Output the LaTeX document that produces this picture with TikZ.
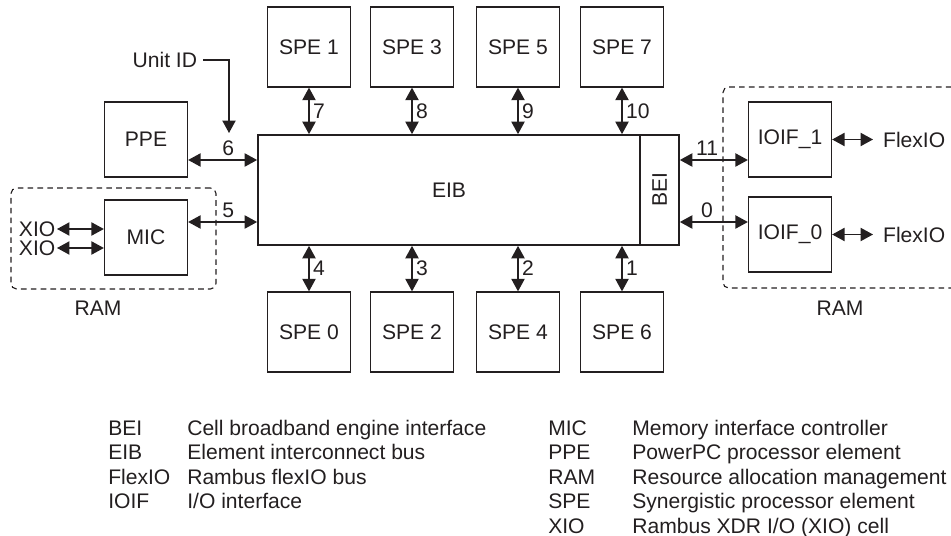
\documentclass[tikz,border=0pt]{standalone}
\usepackage{fontspec}
\setmainfont{Liberation Sans}
\usetikzlibrary{arrows.meta,positioning,calc}
\definecolor{ink}{HTML}{231F20}

\begin{document}
\begin{tikzpicture}[x=0.025cm, y=-0.025cm, color=ink,
  font=\fontsize{15}{18}\selectfont,
  >={Triangle[length=3.1mm,width=3.3mm]},
  unit/.style={draw, line width=0.9pt, inner sep=0pt, minimum width=2.075cm, minimum height=2cm},
  bus/.style={<->, line width=0.9pt},
  ramzone/.style={draw, dash pattern=on 4pt off 3pt, line width=0.8pt, rounded corners=4pt, inner sep=0pt},
  tag/.style={inner sep=2.5pt},
  key/.style={anchor=base west, inner sep=0pt}]
\useasboundingbox (0,0) rectangle (951,536);

% bus and interface
\node[unit, line width=1.2pt, minimum width=9.55cm, minimum height=2.75cm] (eib) at (449,190) {EIB};
\node[unit, line width=1.2pt, minimum width=0.975cm, minimum height=2.75cm] (bei) at (659.5,190) {\rotatebox{90}{BEI}};

% SPEs above and below
\foreach \n/\x/\l in {1/309/7,3/412/8,5/518/9,7/622/10} {
  \node[unit] (spe\n) at (\x,47) {SPE \n};
  \draw[bus] (spe\n.south) -- (spe\n.south |- eib.north) node[midway, right, tag] {\l};
}
\foreach \n/\x/\l in {0/309/4,2/412/3,4/518/2,6/622/1} {
  \node[unit] (spe\n) at (\x,332) {SPE \n};
  \draw[bus] (spe\n.north) -- (spe\n.north |- eib.south) node[midway, right, tag] {\l};
}

% left side
\coordinate (hi) at (0,160);
\coordinate (lo) at (0,222);
\node[unit, minimum height=1.875cm] (ppe) at (146,139.5) {PPE};
\node[unit, minimum height=1.875cm] (mic) at (146,237.5) {MIC};
\draw[bus] (ppe.east |- hi) -- (eib.west |- hi) node[pos=0.58, above, tag] {6};
\draw[bus] (mic.east |- lo) -- (eib.west |- lo) node[pos=0.58, above, tag] {5};
\node[anchor=east, inner sep=1pt] (xioa) at (57,229) {XIO};
\node[anchor=east, inner sep=1pt] (xiob) at (57,248) {XIO};
\draw[bus] (xioa.east) -- (mic.west |- xioa.east);
\draw[bus] (xiob.east) -- (mic.west |- xiob.east);
\node[anchor=east, inner sep=4pt] (uid) at (203,60) {Unit ID};
\coordinate (uidend) at (229,133);
\draw[->, line width=0.9pt] (uid.east) -| (uidend);

% right side
\node[unit, minimum height=1.875cm] (ioif1) at (790,139.5) {IOIF\_1};
\node[unit, minimum height=1.875cm] (ioif0) at (790,234.5) {IOIF\_0};
\draw[bus] (bei.east |- hi) -- (ioif1.west |- hi) node[pos=0.4, above, tag] {11};
\draw[bus] (bei.east |- lo) -- (ioif0.west |- lo) node[pos=0.4, above, tag] {0};
\node[anchor=west, inner xsep=7pt, inner ysep=0pt] (flex1) at (873,139.5) {FlexIO};
\node[anchor=west, inner xsep=7pt, inner ysep=0pt] (flex0) at (873,234.5) {FlexIO};
\draw[bus] (ioif1.east) -- (flex1.west);
\draw[bus] (ioif0.east) -- (flex0.west);

% RAM zones
\node[ramzone, minimum width=5.125cm, minimum height=2.525cm] (raml) at (113.5,238.5) {};
\node[ramzone, minimum width=5.85cm, minimum height=5.025cm] (ramr) at (840,187.5) {};
\node (ramltext) at (98,308) {RAM};
\node (ramrtext) at (840,308) {RAM};

% legend
\foreach \k/\d [count=\i] in {BEI/Cell broadband engine interface, EIB/Element interconnect bus,
    FlexIO/Rambus flexIO bus, IOIF/{I/O interface}} {
  \node[key] (lkey\i) at (108,410.5+24.5*\i) {\k};
  \node[key] (ldesc\i) at (187,410.5+24.5*\i) {\d};
}
\foreach \k/\d [count=\i] in {MIC/Memory interface controller, PPE/PowerPC processor element,
    RAM/Resource allocation management, SPE/Synergistic processor element,
    XIO/{Rambus XDR I/O (XIO) cell}} {
  \node[key] (rkey\i) at (548,410.5+24.5*\i) {\k};
  \node[key] (rdesc\i) at (632,410.5+24.5*\i) {\d};
}
\end{tikzpicture}
\end{document}
